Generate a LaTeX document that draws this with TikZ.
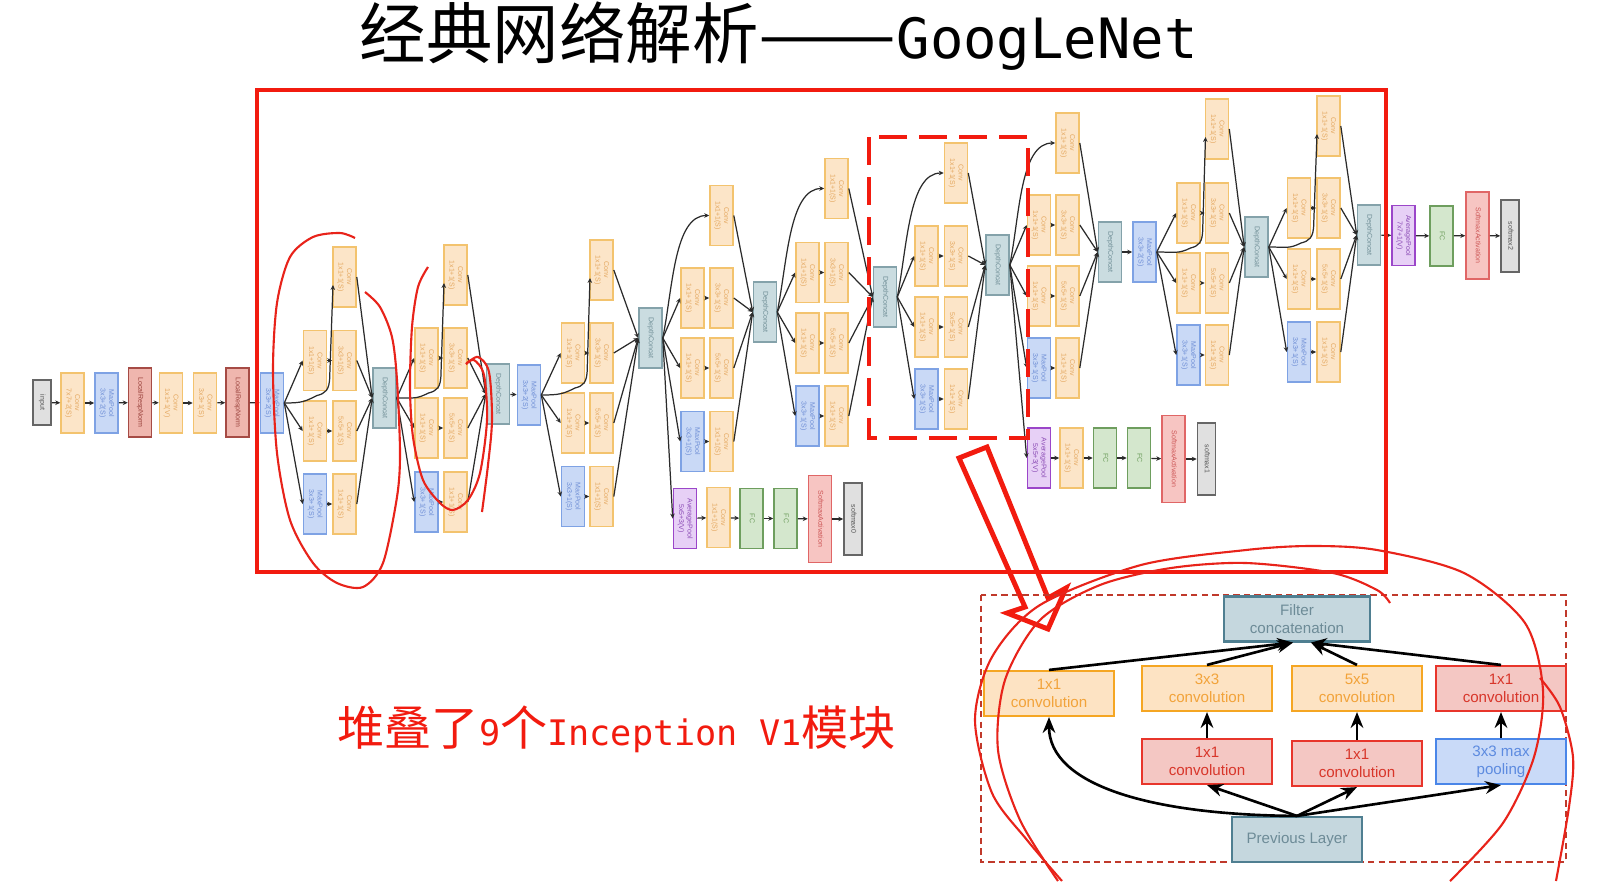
\documentclass[tikz,border=0pt]{standalone}
\usepackage{fontspec}
\usepackage{graphicx}
\usetikzlibrary{positioning,arrows.meta}
\setmainfont{Liberation Sans}
\newfontfamily\cjkfont{Noto Sans CJK SC}
\newfontfamily\latinmono{DejaVu Sans Mono}

\definecolor{convfill}{HTML}{FCE5C8}\definecolor{convline}{HTML}{F3C36E}\definecolor{convtxt}{HTML}{E4A860}
\definecolor{poolfill}{HTML}{C9D9F6}\definecolor{poolline}{HTML}{7EA2E4}\definecolor{pooltxt}{HTML}{6F8FD6}
\definecolor{lrnfill}{HTML}{EFB6AE}\definecolor{lrnline}{HTML}{A64B45}\definecolor{lrntxt}{HTML}{9A423C}
\definecolor{catfill}{HTML}{CADCE0}\definecolor{catline}{HTML}{84A2AA}\definecolor{cattxt}{HTML}{6F8E96}
\definecolor{apfill}{HTML}{E7D0F6}\definecolor{apline}{HTML}{9B46C9}\definecolor{aptxt}{HTML}{8A4AB5}
\definecolor{fcfill}{HTML}{D4E7CD}\definecolor{fcline}{HTML}{6E9E5E}\definecolor{fctxt}{HTML}{6E9E5E}
\definecolor{safill}{HTML}{F7C5C2}\definecolor{saline}{HTML}{E06666}\definecolor{satxt}{HTML}{CC5555}
\definecolor{smfill}{HTML}{E0E0E0}\definecolor{smline}{HTML}{666666}\definecolor{smtxt}{HTML}{555555}
\definecolor{lncol}{HTML}{2B2B2B}
\definecolor{markred}{HTML}{F21B0F}
\definecolor{penred}{HTML}{E8231A}
\definecolor{frame}{HTML}{C0392B}
\definecolor{orfill}{HTML}{FDE3C3}\definecolor{orline}{HTML}{F5A623}\definecolor{ortxt}{HTML}{F2A33A}
\definecolor{rdfill}{HTML}{F4C7C3}\definecolor{rdline}{HTML}{E8352B}\definecolor{rdtxt}{HTML}{D8362A}
\definecolor{blfill}{HTML}{C9DAF8}\definecolor{blline}{HTML}{4A86E8}\definecolor{bltxt}{HTML}{5D8BE0}
\definecolor{gyfill}{HTML}{C5D7DE}\definecolor{gyline}{HTML}{4F7F91}\definecolor{gytxt}{HTML}{6D8B97}

\newcommand{\vtxt}[1]{\rotatebox{-90}{\begin{tabular}{@{}c@{}}#1\end{tabular}}}

\begin{document}
\begin{tikzpicture}[x=0.01cm,y=-0.01cm,>={Stealth[length=1.4pt,width=1.3pt]},
  box/.style={draw,line width=0.45pt,inner sep=0pt,minimum width=0.23cm,minimum height=0.6cm,font=\fontsize{2}{2.4}\selectfont},
  conv/.style={box,fill=convfill,draw=convline,text=convtxt},
  pool/.style={box,fill=poolfill,draw=poolline,text=pooltxt},
  lrn/.style={box,fill=lrnfill,draw=lrnline,text=lrntxt,minimum height=0.69cm},
  dcat/.style={box,fill=catfill,draw=catline,text=cattxt},
  apool/.style={box,fill=apfill,draw=apline,text=aptxt},
  fc/.style={box,fill=fcfill,draw=fcline,text=fctxt},
  sact/.style={box,fill=safill,draw=saline,text=satxt,minimum height=0.87cm},
  smax/.style={box,fill=smfill,draw=smline,text=smtxt,minimum width=0.18cm,minimum height=0.72cm},
  ln/.style={->,line width=0.35pt,draw=lncol},
  blk/.style={draw,line width=0.6pt,inner sep=0pt,minimum width=1.3cm,minimum height=0.45cm,align=center,font=\fontsize{4.3}{5.2}\selectfont},
  orb/.style={blk,fill=orfill,draw=orline,text=ortxt},
  rdb/.style={blk,fill=rdfill,draw=rdline,text=rdtxt},
  blb/.style={blk,fill=blfill,draw=blline,text=bltxt},
  gyb/.style={blk,fill=gyfill,draw=gyline,text=gytxt},
  big/.style={-{Stealth[length=4.5pt,width=3.6pt]},line width=0.75pt},
  pen/.style={draw=penred,line width=0.6pt}]
\fill[white] (0,0) rectangle (1617,881);
\useasboundingbox (0,0) rectangle (1617,881);

% title and note
\node[anchor=base west,inner sep=0pt] (title) at (359,58)
  {{\cjkfont\fontsize{18.9}{22}\selectfont 经典网络解析\scalebox{1.24}[1]{——}}{\latinmono\fontsize{15.8}{18}\selectfont GoogLeNet}};
\node[anchor=base west,inner sep=0pt,text=markred] (note) at (337,745)
  {{\cjkfont\fontsize{13.4}{16}\selectfont 堆叠了}{\latinmono\fontsize{10}{12}\selectfont 9}{\cjkfont\fontsize{13.4}{16}\selectfont 个}{\latinmono\fontsize{10}{12}\selectfont Inception V1}{\cjkfont\fontsize{13.4}{16}\selectfont 模块}};

% stem
\node[smax,minimum height=0.45cm] (in0) at (42,402.5) {\vtxt{input}};
\node[conv] (c1) at (72.5,403) {\vtxt{Conv\\7x7+2(S)}};
\node[pool] (p1) at (106.5,403) {\vtxt{MaxPool\\3x3+2(S)}};
\node[lrn] (n1) at (140,402.5) {\vtxt{LocalRespNorm}};
\node[conv] (c2) at (171,403) {\vtxt{Conv\\1x1+1(V)}};
\node[conv] (c3) at (205,403) {\vtxt{Conv\\3x3+1(S)}};
\node[lrn] (n2) at (237.5,402.5) {\vtxt{LocalRespNorm}};
\node[pool] (p2) at (272,403) {\vtxt{MaxPool\\3x3+2(S)}};

% concats and pools between modules
\node[dcat] (d1) at (384.5,398) {\vtxt{DepthConcat}};
\node[dcat] (d2) at (498,394) {\vtxt{DepthConcat}};
\node[pool] (p3) at (529,395) {\vtxt{MaxPool\\3x3+2(S)}};
\node[dcat] (d3) at (650.5,338) {\vtxt{DepthConcat}};
\node[dcat] (d4) at (765,312) {\vtxt{DepthConcat}};
\node[dcat] (d5) at (885,297) {\vtxt{DepthConcat}};
\node[dcat] (d6) at (997.5,265) {\vtxt{DepthConcat}};
\node[dcat] (d7) at (1110,252) {\vtxt{DepthConcat}};
\node[pool] (p4) at (1144.5,252) {\vtxt{MaxPool\\3x3+2(S)}};
\node[dcat] (d8) at (1256.5,247) {\vtxt{DepthConcat}};
\node[dcat] (d9) at (1369,235) {\vtxt{DepthConcat}};

% auxiliary heads and output
\node[apool] (a1p) at (685,518.5) {\vtxt{AveragePool\\5x5+3(V)}};
\node[conv] (a1c) at (718.5,517.5) {\vtxt{Conv\\1x1+1(S)}};
\node[fc] (a1f) at (751.5,518.5) {\vtxt{FC}};
\node[fc] (a1g) at (785.5,518.5) {\vtxt{FC}};
\node[sact] (a1s) at (820,519) {\vtxt{SoftmaxActivation}};
\node[smax] (a1o) at (853,519) {\vtxt{softmax0}};
\node[apool] (a2p) at (1039,458) {\vtxt{AveragePool\\5x5+3(V)}};
\node[conv] (a2c) at (1071.5,458) {\vtxt{Conv\\1x1+1(S)}};
\node[fc] (a2f) at (1105,458) {\vtxt{FC}};
\node[fc] (a2g) at (1139,458) {\vtxt{FC}};
\node[sact] (a2s) at (1173.5,459) {\vtxt{SoftmaxActivation}};
\node[smax] (a2o) at (1206.5,459) {\vtxt{softmax1}};
\node[apool] (a3p) at (1403.5,235.5) {\vtxt{AveragePool\\7x7+1(V)}};
\node[fc] (a3f) at (1441.5,236) {\vtxt{FC}};
\node[sact] (a3s) at (1477.5,235.5) {\vtxt{SoftmaxActivation}};
\node[smax] (a3o) at (1510,236) {\vtxt{softmax2}};

\foreach \a/\b in {in0/c1,c1/p1,p1/n1,n1/c2,c2/c3,c3/n2,n2/p2,d2/p3,d7/p4,
    a1p/a1c,a1c/a1f,a1f/a1g,a1g/a1s,a1s/a1o,a2p/a2c,a2c/a2f,a2f/a2g,a2g/a2s,a2s/a2o,
    d9/a3p,a3p/a3f,a3f/a3s,a3s/a3o}
  \draw[ln] (\a) -- (\b);
\draw[ln] (d3.east) -- (a1p.west);
\draw[ln] (d6.east) -- (a2p.west);

% inception modules: name/left x/right x/top y/rows/source/target/kind
\foreach \m/\L/\R/\T/\Ya/\Yb/\Yc/\src/\dst/\kind in {
    3a/315/344.5/277/360.5/431/504/p2/d1/0,
    3b/426.5/455.5/275/358/428/502/d1/d2/0,
    4a/573/601.5/270/353/423/496.5/p3/d3/0,
    4b/692.5/721.5/215.5/298/368/441.5/d3/d4/1,
    4c/807.5/836.5/188.5/272.5/343/416/d4/d5/1,
    4d/926.5/956/173/256/327/399/d5/d6/1,
    4e/1039/1067.5/143/225/296/368/d6/d7/1,
    5a/1188.5/1217/129/213/283/355/p4/d8/0,
    5b/1299/1328.5/126/208/279/352/d8/d9/0}{
  \node[conv] (\m-t) at (\R,\T) {\vtxt{Conv\\1x1+1(S)}};
  \node[conv] (\m-ul) at (\L,\Ya) {\vtxt{Conv\\1x1+1(S)}};
  \node[conv] (\m-ur) at (\R,\Ya) {\vtxt{Conv\\3x3+1(S)}};
  \node[conv] (\m-ml) at (\L,\Yb) {\vtxt{Conv\\1x1+1(S)}};
  \node[conv] (\m-mr) at (\R,\Yb) {\vtxt{Conv\\5x5+1(S)}};
  \node[pool] (\m-ll) at (\L,\Yc) {\vtxt{MaxPool\\3x3+1(S)}};
  \node[conv] (\m-lr) at (\R,\Yc) {\vtxt{Conv\\1x1+1(S)}};
  \foreach \r in {ul,ml,ll} \draw[ln] (\src.east) -- (\m-\r.west);
  \foreach \r in {u,m,l} \draw[ln] (\m-\r l) -- (\m-\r r);
  \foreach \r in {t,ur,mr,lr} \draw[ln] (\m-\r.east) -- (\dst.west);
  \ifnum\kind=0
    \draw[ln] (\src.east) .. controls +(18,0) and +(-12,6) .. (\L+2,\Ya+35)
      .. controls +(8,-2) and +(0,15) .. ({(\L+\R)/2},\Ya+15) -- (\R-11.5,\T+8);
  \else
    \draw[ln] (\src.east) .. controls +(10,-50) and +(-35,0) .. (\m-t.west);
  \fi
}

% markings
\draw[markred,line width=1.15pt] (257,90) rectangle (1386,572);
\draw[markred,line width=1.4pt,dash pattern=on 8pt off 3.4pt] (869,137) rectangle (1028,438);
\draw[markred,line width=1.4pt,line join=miter] (959,458) -- (987,447) -- (1048,598) -- (1066,588)
  -- (1048,629) -- (1007,613) -- (1025,607) -- cycle;
\draw[pen] plot[smooth] coordinates {(355,238) (340,233) (313,237) (290,257) (277,303) (273,370)
  (277,453) (290,520) (313,563) (337,583) (363,587) (383,563) (397,497) (400,453) (397,380)
  (392,337) (380,307) (365,292)};
\draw[pen] plot[smooth] coordinates {(428,267) (418,287) (412,327) (410,387) (413,437) (423,480)
  (440,503) (453,510) (468,500) (480,473) (487,420) (484,375) (474,360) (466,364)};
\draw[pen] plot[smooth] coordinates {(466,364) (478,357) (489,372) (492,420) (488,465) (482,512)};

% one inception block
\draw[frame,line width=0.45pt,dash pattern=on 1.8pt off 1.2pt] (981,595) rectangle (1566,862);
\node[gyb,minimum width=1.46cm] (cat) at (1297,619) {Filter\\concatenation};
\node[orb] (o1) at (1049,693.5) {1x1\\convolution};
\node[orb] (o3) at (1207,688.5) {3x3\\convolution};
\node[orb] (o5) at (1357,688.5) {5x5\\convolution};
\node[rdb] (rc) at (1501,688.5) {1x1\\convolution};
\node[rdb] (r1) at (1207,761.5) {1x1\\convolution};
\node[rdb] (r2) at (1357,763.5) {1x1\\convolution};
\node[blb] (mp) at (1501,761.5) {3x3 max\\pooling};
\node[gyb] (prev) at (1297,839.5) {Previous Layer};
\draw[big] (prev.north) .. controls (1150,815) and (1049,785) .. (o1.south);
\foreach \b in {r1,r2,mp} \draw[big] (prev.north) -- (\b.south);
\draw[big] (r1) -- (o3);
\draw[big] (r2) -- (o5);
\draw[big] (mp) -- (rc);
\foreach \b in {o1,o3} \draw[big] (\b.north) -- ([xshift=-0.04cm]cat.south);
\foreach \b in {o5,rc} \draw[big] (\b.north) -- ([xshift=0.14cm]cat.south);

% pen loops round the block
\draw[pen] plot[smooth] coordinates {(1390,603) (1377,590) (1333,573) (1246,563) (1171,568)
  (1100,585) (1040,620) (1005,680) (998,750) (1020,820) (1058,881)};
\draw[pen] plot[smooth] coordinates {(1062,881) (1027,840) (992,793) (975,720) (992,657)
  (1040,605) (1141,565) (1246,550) (1311,546) (1377,550) (1464,573) (1525,623) (1543,690)
  (1534,757) (1503,823) (1450,881)};
\draw[pen] plot[smooth] coordinates {(1540,678) (1560,707) (1573,757) (1569,807) (1556,881)};
\end{tikzpicture}
\end{document}
